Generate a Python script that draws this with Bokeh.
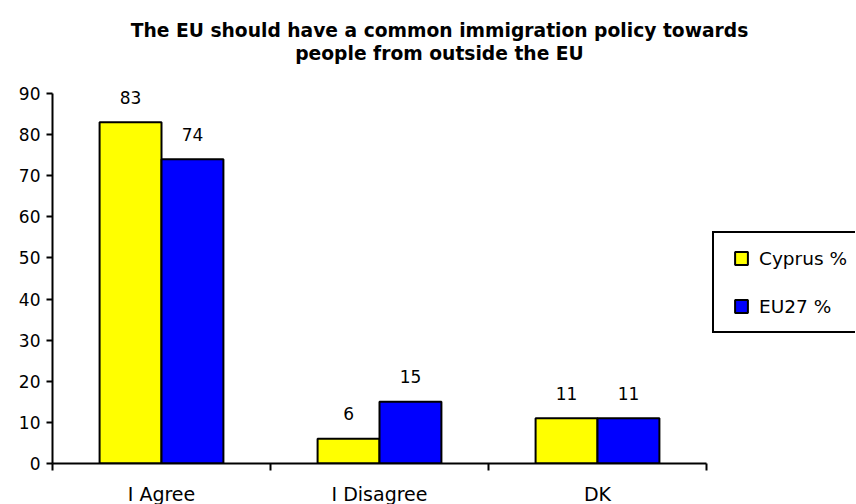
from bokeh.plotting import figure
from bokeh.models import ColumnDataSource, Range1d, FixedTicker, Legend, LegendItem, Label
from bokeh.core.properties import value
from bokeh.embed import file_html
from bokeh.resources import INLINE
import numpy as np

categories = ["I Agree", "I Disagree", "DK"]
cyprus = [83, 6, 11]
eu27 = [74, 15, 11]
series_names = ["Cyprus %", "EU27 %"]
series_colors = ["#FFFF00", "#0000FF"]
y_ticks = [0, 10, 20, 30, 40, 50, 60, 70, 80, 90]
y_max = 90
title_lines = ["The EU should have a common immigration policy towards",
               "people from outside the EU"]

FONT = "DejaVu Sans"
BAR_W = 0.284

# layout (pixels)
AXIS_W, AXIS_H = 654, 370      # size of the axes box
FRAME_W, FRAME_H = 803, 463    # frame extends right (legend) and up (title)
n = len(categories)
centers = np.arange(n) + 0.5

p = figure(frame_width=FRAME_W, frame_height=FRAME_H, title_location=None,
           output_backend="svg", toolbar_location=None,
           x_range=Range1d(0, n * FRAME_W / AXIS_W),
           y_range=Range1d(0, y_max * FRAME_H / AXIS_H))
p.min_border_left = 52
p.min_border_top = 0
p.min_border_right = 0
p.min_border_bottom = 30
p.outline_line_color = None
p.xgrid.grid_line_color = None
p.ygrid.grid_line_color = None
p.background_fill_color = "white"
p.border_fill_color = "white"

src_c = ColumnDataSource(dict(x=centers - BAR_W / 2, y=cyprus, t=[str(v) for v in cyprus]))
src_e = ColumnDataSource(dict(x=centers + BAR_W / 2, y=eu27, t=[str(v) for v in eu27]))
sources = [src_c, src_e]

for s, c in zip(sources, series_colors):
    p.vbar(x="x", top="y", bottom=0, width=BAR_W, source=s,
           fill_color=c, line_color="black", line_width=2)
    p.text(x="x", y="y", text="t", source=s, text_align="center", text_baseline="alphabetic",
           y_offset=-25, text_font=value(FONT), text_font_size="17px", text_color="black")

# legend swatches: zero-size square markers on the same data (invisible in the plot)
proxies = [p.scatter(x="x", y="y", source=s, marker="square", size=0, fill_color=c,
                     line_color="black", line_width=2)
           for s, c in zip(sources, series_colors)]

# title (two centred lines)
for i, line in enumerate(title_lines):
    p.add_layout(Label(x=387, y=433 - 23 * i, x_units="screen", y_units="screen",
                       text=line, text_align="center", text_baseline="middle",
                       text_font=FONT, text_font_size="18.7px", text_font_style="bold",
                       text_color="black"))

# axes
xa = p.xaxis[0]
xa.bounds = (0, n)
xa.ticker = FixedTicker(ticks=list(centers), minor_ticks=list(range(n + 1)))
xa.major_label_overrides = {float(c): lab for c, lab in zip(centers, categories)}
xa.major_tick_line_color = None
xa.major_tick_out = 0
xa.major_tick_in = 0
xa.minor_tick_line_color = "black"
xa.minor_tick_line_width = 2
xa.minor_tick_out = 7
xa.minor_tick_in = 0
xa.major_label_standoff = 12
xa.axis_line_width = 2
xa.axis_line_color = "black"
xa.major_label_text_font = FONT
xa.major_label_text_font_size = "19px"
xa.major_label_text_color = "black"

ya = p.yaxis[0]
ya.bounds = (0, y_max)
ya.ticker = FixedTicker(ticks=y_ticks)
ya.minor_tick_line_color = None
ya.major_tick_line_color = "black"
ya.major_tick_line_width = 2
ya.major_tick_out = 6
ya.major_tick_in = 0
ya.major_label_standoff = 6
ya.axis_line_width = 2
ya.axis_line_color = "black"
ya.major_label_text_font = FONT
ya.major_label_text_font_size = "17px"
ya.major_label_text_color = "black"

legend = Legend(items=[LegendItem(label=series_names[i], renderers=[proxies[i]]) for i in range(2)],
                location=(660, 130), orientation="vertical",
                glyph_width=36, glyph_height=32, label_standoff=0, label_width=90,
                padding=9, spacing=16, margin=0,
                label_text_font=FONT, label_text_font_size="18.5px", label_text_color="black",
                border_line_color="black", border_line_width=2, border_line_alpha=1,
                background_fill_alpha=1)
p.add_layout(legend, "center")

open("out.html", "w").write(file_html(p, INLINE))
